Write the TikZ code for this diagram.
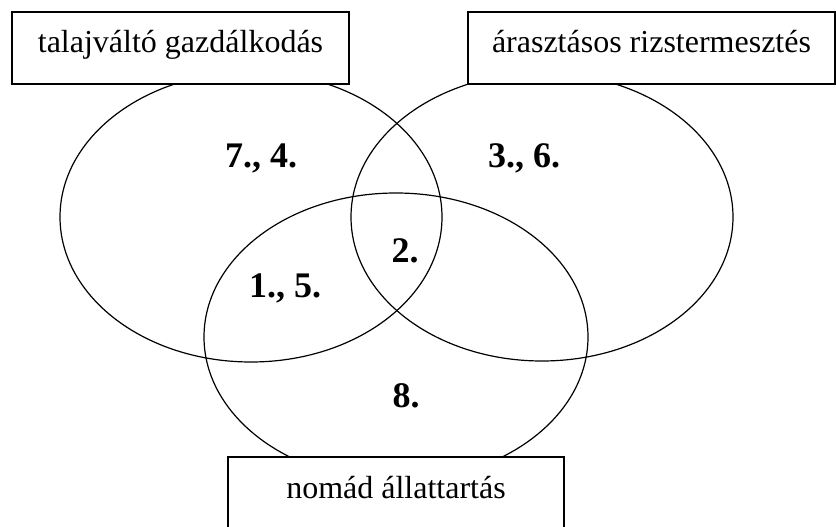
\documentclass[tikz,border=0pt]{standalone}
\usepackage{fontspec}
\setmainfont{Liberation Serif}
\begin{document}
\begin{tikzpicture}[x=1pt,y=-1pt,
  venn/.style={draw=black,line width=1.2pt},
  labelbox/.style={draw=black,fill=white,line width=1.2pt,rectangle,inner sep=0pt,
    minimum height=72pt,text height=16pt,text depth=6pt,
    font=\fontsize{32}{38}\selectfont},
  num/.style={anchor=base,inner sep=0pt,font=\fontsize{36}{42}\selectfont\bfseries}]
\useasboundingbox (0,0) rectangle (836,527);
\clip (0,0) rectangle (836,527);
% ellipses
\draw[venn] (251,217) ellipse [x radius=191, y radius=145];
\draw[venn] (542,217) ellipse [x radius=191, y radius=144];
\draw[venn] (396,337) ellipse [x radius=192, y radius=144];
% label boxes
\node[labelbox,minimum width=337pt] (talaj) at (180.5,48) {talajváltó gazdálkodás};
\node[labelbox,minimum width=367pt] (rizs) at (651.5,48) {árasztásos rizstermesztés};
\node[labelbox,minimum width=336pt] (nomad) at (396,493) {nomád állattartás};
% region numbers
\node[num] (n74) at (261,167) {7., 4.};
\node[num] (n36) at (524,167) {3., 6.};
\node[num] (n2) at (405,262) {2.};
\node[num] (n15) at (285,297) {1., 5.};
\node[num] (n8) at (406,407) {8.};
\end{tikzpicture}
\end{document}
